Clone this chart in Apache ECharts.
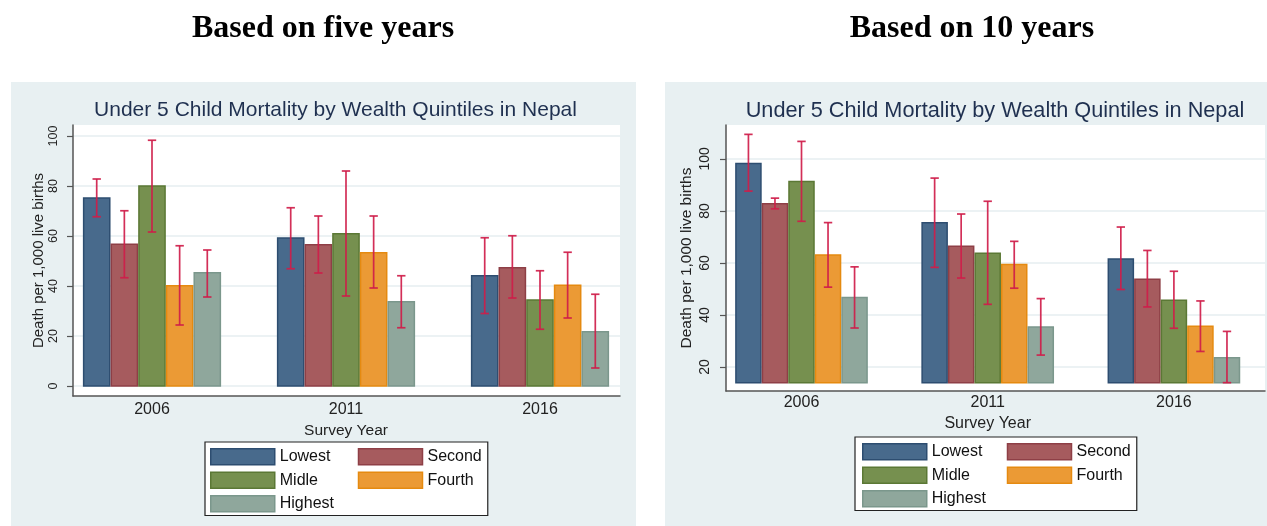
<!DOCTYPE html>
<html><head><meta charset="utf-8">
<script src="https://cdn.jsdelivr.net/npm/echarts@6/dist/echarts.min.js"></script>
<style>html,body{margin:0;padding:0;background:#fff}#c{width:1267px;height:526px}</style>
</head><body><div id="c"></div>
<script>
// ---------- data ----------
const categories = ['2006', '2011', '2016'];
const quintiles = ['Lowest', 'Second', 'Midle', 'Fourth', 'Highest'];

// Based on five years
const fiveLowest  = [75.2, 59.2, 44.1];
const fiveSecond  = [56.7, 56.5, 47.3];
const fiveMidle   = [80.0, 60.9, 34.4];
const fiveFourth  = [40.1, 53.3, 40.3];
const fiveHighest = [45.3, 33.7, 21.7];
const fiveLowestLo  = [67.7, 46.9, 29.0], fiveLowestHi  = [82.8, 71.3, 59.3];
const fiveSecondLo  = [43.3, 45.2, 35.2], fiveSecondHi  = [70.1, 68.0, 60.1];
const fiveMidleLo   = [61.6, 36.0, 22.7], fiveMidleHi   = [98.3, 86.0, 46.1];
const fiveFourthLo  = [24.4, 39.2, 27.2], fiveFourthHi  = [56.1, 68.0, 53.5];
const fiveHighestLo = [35.6, 23.3, 7.2],  fiveHighestHi = [54.4, 44.1, 36.7];

// Based on 10 years
const tenLowest  = [98.2, 75.4, 61.5];
const tenSecond  = [82.7, 66.4, 53.7];
const tenMidle   = [91.3, 63.7, 45.7];
const tenFourth  = [63.1, 59.4, 35.7];
const tenHighest = [46.7, 35.4, 23.6];
const tenLowestLo  = [87.6, 58.3, 49.8], tenLowestHi  = [109.4, 92.6, 73.8];
const tenSecondLo  = [80.8, 54.2, 43.1], tenSecondHi  = [84.9, 78.8, 64.8];
const tenMidleLo   = [76.0, 44.1, 34.9], tenMidleHi   = [106.7, 83.7, 56.8];
const tenFourthLo  = [50.7, 50.3, 26.0], tenFourthHi  = [75.5, 68.3, 45.4];
const tenHighestLo = [35.0, 24.6, 14.0], tenHighestHi = [58.5, 46.3, 33.7];

const fiveTicks = [0, 20, 40, 60, 80, 100];
const tenTicks = [20, 40, 60, 80, 100];

// ---------- style ----------
const FILLS   = ['#486a8c', '#a65b5e', '#76904f', '#eb9a35', '#8fa79c'];
const STROKES = ['#2d4d70', '#8e3f46', '#5b7835', '#e58a10', '#7b978c'];
const ERR = '#cf1d4a';
const PANEL = '#e8f0f2';
const GRIDLINE = '#e6eef1';
const AXIS = '#555';
const FONT = 'Liberation Sans, Arial, sans-serif';
const BAR_FRAC = 0.1425;

const fiveVals = [fiveLowest, fiveSecond, fiveMidle, fiveFourth, fiveHighest];
const fiveLo = [fiveLowestLo, fiveSecondLo, fiveMidleLo, fiveFourthLo, fiveHighestLo];
const fiveHi = [fiveLowestHi, fiveSecondHi, fiveMidleHi, fiveFourthHi, fiveHighestHi];
const tenVals = [tenLowest, tenSecond, tenMidle, tenFourth, tenHighest];
const tenLo = [tenLowestLo, tenSecondLo, tenMidleLo, tenFourthLo, tenHighestLo];
const tenHi = [tenLowestHi, tenSecondHi, tenMidleHi, tenFourthHi, tenHighestHi];

function barRender(k, base) {
  return function (params, api) {
    const ci = api.value(0), v = api.value(1);
    const band = api.size([1, 0])[0];
    const w = band * BAR_FRAC;
    const top = api.coord([ci, v]);
    const bot = api.coord([ci, base]);
    const x = top[0] + (k - 2.5) * w;
    return {
      type: 'rect',
      shape: { x: x + 0.75, y: top[1], width: w - 1.5, height: bot[1] - top[1] },
      style: { fill: FILLS[k], stroke: STROKES[k], lineWidth: 1.5 }
    };
  };
}
function errRender(params, api) {
  const ci = api.value(0), k = api.value(1), lo = api.value(2), hi = api.value(3);
  const band = api.size([1, 0])[0];
  const w = band * BAR_FRAC;
  const t = api.coord([ci, hi]);
  const b = api.coord([ci, lo]);
  const x = t[0] + (k - 2) * w;
  const cap = 4.2;
  const st = { stroke: ERR, lineWidth: 1.7, opacity: 0.92 };
  return {
    type: 'group',
    children: [
      { type: 'line', shape: { x1: x, y1: t[1], x2: x, y2: b[1] }, style: st },
      { type: 'line', shape: { x1: x - cap, y1: t[1], x2: x + cap, y2: t[1] }, style: st },
      { type: 'line', shape: { x1: x - cap, y1: b[1], x2: x + cap, y2: b[1] }, style: st }
    ]
  };
}

function buildSeries(vals, lo, hi, gridAxisIdx, base) {
  const s = [];
  for (let k = 0; k < 5; k++) {
    s.push({
      type: 'custom', name: quintiles[k],
      xAxisIndex: gridAxisIdx, yAxisIndex: gridAxisIdx,
      itemStyle: { color: FILLS[k], borderColor: STROKES[k] },
      renderItem: barRender(k, base),
      encode: { x: 0, y: 1 },
      data: categories.map((c, i) => [i, vals[k][i]]),
      z: 3
    });
  }
  const err = [];
  for (let k = 0; k < 5; k++) for (let i = 0; i < 3; i++) err.push([i, k, lo[k][i], hi[k][i]]);
  s.push({
    type: 'custom', name: 'ci' + gridAxisIdx,
    xAxisIndex: gridAxisIdx, yAxisIndex: gridAxisIdx,
    renderItem: errRender, encode: { x: 0, y: [2, 3] },
    data: err, z: 4
  });
  return s;
}

function legendData(widths) {
  return quintiles.map((q, k) => ({
    name: q, icon: 'rect',
    itemStyle: { color: FILLS[k], borderColor: STROKES[k], borderWidth: 1.5 },
    textStyle: { width: widths[k % 2], fontSize: 16, fontFamily: FONT, color: '#111', lineHeight: 16 }
  }));
}

const chart = echarts.init(document.getElementById('c'), null, { renderer: 'canvas' });

const plotYAxis = (min, max, ticks, fs, margin, nameFs, nameGap) => ({
  type: 'value', min: min, max: max,
  axisLine: { show: true, onZero: false, lineStyle: { color: AXIS, width: 1.5 } },
  axisTick: { show: true, length: 6, customValues: ticks, lineStyle: { color: AXIS, width: 1.2 } },
  axisLabel: { rotate: 90, customValues: ticks, fontSize: fs, fontFamily: FONT, color: '#222', margin: margin },
  splitLine: { show: true, lineStyle: { color: GRIDLINE, width: 1.5 } },
  name: 'Death per 1,000 live births', nameLocation: 'middle', nameGap: nameGap,
  nameTextStyle: { fontSize: nameFs, fontFamily: FONT, color: '#222' }
});

const option = {
  backgroundColor: '#ffffff',
  animation: false,
  graphic: [
    { type: 'rect', z: -10, shape: { x: 11, y: 82, width: 625, height: 450 }, style: { fill: PANEL } },
    { type: 'rect', z: -10, shape: { x: 665, y: 82, width: 602, height: 450 }, style: { fill: PANEL } },
    { type: 'text', x: 323, y: 29, style: { text: 'Based on five years', font: 'bold 32px "Liberation Serif", "Times New Roman", serif', fill: '#000', textAlign: 'center', textVerticalAlign: 'middle' } },
    { type: 'text', x: 972, y: 29, style: { text: 'Based on 10 years', font: 'bold 32px "Liberation Serif", "Times New Roman", serif', fill: '#000', textAlign: 'center', textVerticalAlign: 'middle' } },
    { type: 'text', x: 335.5, y: 110, style: { text: 'Under 5 Child Mortality by Wealth Quintiles in Nepal', font: '21px "Liberation Sans", Arial, sans-serif', fill: '#1f3050', textAlign: 'center', textVerticalAlign: 'middle' } },
    { type: 'text', x: 995, y: 111, style: { text: 'Under 5 Child Mortality by Wealth Quintiles in Nepal', font: '21.7px "Liberation Sans", Arial, sans-serif', fill: '#1f3050', textAlign: 'center', textVerticalAlign: 'middle' } }
  ],
  grid: [
    { left: 73, top: 125, width: 547, height: 271, show: true, backgroundColor: '#fff', borderWidth: 0 },
    { left: 55, top: 125, width: 582, height: 271 },
    { left: 726, top: 125, width: 539, height: 266, show: true, backgroundColor: '#fff', borderWidth: 0 },
    { left: 708.4, top: 125, width: 574, height: 266 }
  ],
  xAxis: [
    { type: 'category', gridIndex: 0, data: categories, axisLine: { onZero: false, lineStyle: { color: AXIS, width: 1.5 } }, axisTick: { show: false }, axisLabel: { show: false } },
    { type: 'category', gridIndex: 1, data: categories, axisLine: { show: false, onZero: false }, axisTick: { show: false },
      axisLabel: { fontSize: 16, fontFamily: FONT, color: '#222', margin: 6 },
      name: 'Survey Year', nameLocation: 'middle', nameGap: 22, nameTextStyle: { fontSize: 15.5, fontFamily: FONT, color: '#222' } },
    { type: 'category', gridIndex: 2, data: categories, axisLine: { onZero: false, lineStyle: { color: AXIS, width: 1.5 } }, axisTick: { show: false }, axisLabel: { show: false } },
    { type: 'category', gridIndex: 3, data: categories, axisLine: { show: false, onZero: false }, axisTick: { show: false },
      axisLabel: { fontSize: 16, fontFamily: FONT, color: '#222', margin: 4 },
      name: 'Survey Year', nameLocation: 'middle', nameGap: 21, nameTextStyle: { fontSize: 16, fontFamily: FONT, color: '#222' } }
  ],
  yAxis: [
    Object.assign({ gridIndex: 0 }, plotYAxis(-4, 104.4, fiveTicks, 12.5, 13, 15, 27)),
    { type: 'value', gridIndex: 1, min: -4, max: 104.4, show: false, splitLine: { show: false } },
    Object.assign({ gridIndex: 2 }, plotYAxis(10.8, 113, tenTicks, 14, 14, 15.5, 31)),
    { type: 'value', gridIndex: 3, min: 10.8, max: 113, show: false, splitLine: { show: false } }
  ],
  legend: [
    { left: 205, top: 442, width: 272, orient: 'horizontal', itemWidth: 64, itemHeight: 16, itemGap: 6,
      padding: [6, 6, 3, 5], backgroundColor: '#fff', borderColor: '#222', borderWidth: 1.2,
      selectedMode: false, data: legendData([72, 53]) },
    { left: 855, top: 437, width: 270, orient: 'horizontal', itemWidth: 64, itemHeight: 16, itemGap: 6,
      padding: [6, 6, 3, 7], backgroundColor: '#fff', borderColor: '#222', borderWidth: 1.2,
      selectedMode: false, data: legendData([69, 53]) }
  ],
  series: [].concat(
    buildSeries(fiveVals, fiveLo, fiveHi, 1, 0),
    buildSeries(tenVals, tenLo, tenHi, 3, 14)
  )
};
chart.setOption(option);
</script></body></html>
